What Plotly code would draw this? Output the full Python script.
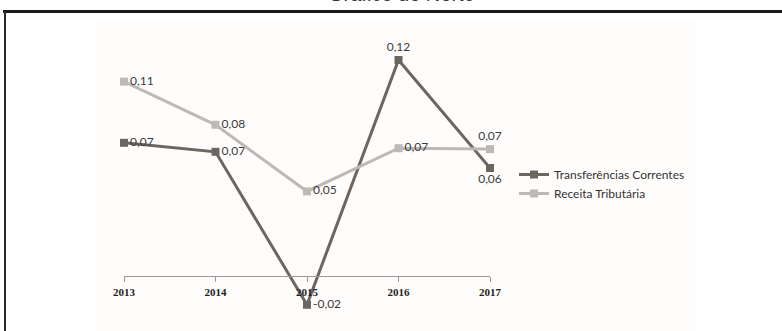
import plotly.graph_objects as go

# ---- data ----
years = ["2013", "2014", "2015", "2016", "2017"]
transferencias = [0.074, 0.069, -0.016, 0.120, 0.060]
receita = [0.108, 0.084, 0.047, 0.071, 0.0705]
series_names = ["Transferências Correntes", "Receita Tributária"]
title_text = "Gráfico do Norte"

# ---- layout geometry (pixels) ----
W, H = 782, 331
L, R, T, B = 124, 490, 42, 330   # plot area box
Y0, Y1 = -0.03, 0.13
AXIS_PX = 276


def px_x(px):
    return (px - L) / (R - L)


def px_y(py):
    return (B - py) / (B - T)


c_trans = "#6c6661"
c_rec = "#bdb9b5"
lab_font = dict(family="Lato, Open Sans, sans-serif", size=12, color="#3a3a3a")

fig = go.Figure()
fig.add_trace(go.Scatter(
    x=years, y=transferencias, name=series_names[0], mode="lines+markers+text",
    line=dict(color=c_trans, width=3),
    marker=dict(symbol="square", size=8, color=c_trans),
    texttemplate="%{y:.2f}",
    textposition=["middle right", "middle right", "middle right", "top center", "bottom center"],
    textfont=lab_font, cliponaxis=False,
))
fig.add_trace(go.Scatter(
    x=years, y=receita, name=series_names[1], mode="lines+markers+text",
    line=dict(color=c_rec, width=3),
    marker=dict(symbol="square", size=8, color=c_rec),
    texttemplate="%{y:.2f}",
    textposition=["middle right", "middle right", "middle right", "middle right", "top center"],
    textfont=lab_font, cliponaxis=False,
))

fig.update_layout(
    width=W, height=H,
    margin=dict(l=L, r=W - R, t=T, b=H - B, autoexpand=False),
    paper_bgcolor="white", plot_bgcolor="rgba(0,0,0,0)",
    separators=",.",
    showlegend=True,
    legend=dict(
        x=px_x(514), y=px_y(184), xanchor="left", yanchor="middle",
        font=dict(family="Lato, Open Sans, sans-serif", size=12, color="#333333"),
        itemwidth=30, bgcolor="rgba(0,0,0,0)", tracegroupgap=0,
    ),
    xaxis=dict(
        type="category", range=[0, 4], anchor="free", position=px_y(AXIS_PX),
        showline=True, linecolor="#9a9a9a", linewidth=1,
        ticks="outside", ticklen=5, tickcolor="#9a9a9a", tickwidth=1,
        showgrid=False, zeroline=False, ticklabelstandoff=1,
        tickfont=dict(family="Liberation Serif, DejaVu Serif, serif", size=11,
                      color="#222222", weight="bold"),
        fixedrange=True,
    ),
    yaxis=dict(range=[Y0, Y1], visible=False, fixedrange=True),
    shapes=[
        dict(type="rect", xref="paper", yref="paper", layer="below",
             x0=px_x(95), x1=px_x(695), y0=px_y(335), y1=px_y(21),
             fillcolor="#fefdfc", line=dict(width=0)),
        dict(type="line", xref="paper", yref="paper",
             x0=px_x(3), x1=px_x(790), y0=px_y(11.5), y1=px_y(11.5),
             line=dict(color="#1a1a1a", width=3)),
        dict(type="line", xref="paper", yref="paper",
             x0=px_x(5), x1=px_x(5), y0=px_y(11), y1=px_y(340),
             line=dict(color="#2a2a2a", width=2)),
    ],
    annotations=[
        dict(text=title_text, xref="paper", yref="paper",
             x=px_x(401), y=px_y(6.5), xanchor="center", yanchor="bottom",
             showarrow=False,
             font=dict(family="Liberation Sans, Arial, sans-serif", size=20, color="#333333")),
    ],
)

fig.write_html("out.html")
